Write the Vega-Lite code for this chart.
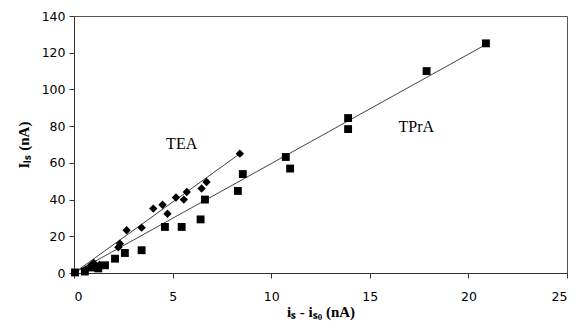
{
  "$schema": "https://vega.github.io/schema/vega-lite/v6.json",
  "autosize": "none",
  "width": 493,
  "height": 257,
  "padding": {"left": 74, "top": 16, "right": 7, "bottom": 48},
  "background": "white",
  "config": {
    "view": {"stroke": "#555", "strokeWidth": 1},
    "axis": {
      "grid": false,
      "domainColor": "#333",
      "tickColor": "#333",
      "tickSize": 5,
      "labelFont": "DejaVu Sans",
      "labelFontSize": 12.5,
      "labelColor": "black",
      "titleFont": "Liberation Serif",
      "titleFontSize": 15,
      "titleFontWeight": "bold",
      "titleColor": "black"
    }
  },
  "datasets": {
    "points": [
      {"series": "TEA", "x": 0.6, "y": 2},
      {"series": "TEA", "x": 0.85, "y": 4},
      {"series": "TEA", "x": 1.0, "y": 5.5},
      {"series": "TEA", "x": 1.3, "y": 4.5},
      {"series": "TEA", "x": 2.25, "y": 14},
      {"series": "TEA", "x": 2.33, "y": 16},
      {"series": "TEA", "x": 2.67, "y": 23.3},
      {"series": "TEA", "x": 3.43, "y": 24.7},
      {"series": "TEA", "x": 4.02, "y": 35.1},
      {"series": "TEA", "x": 4.49, "y": 37.2},
      {"series": "TEA", "x": 4.74, "y": 32.3},
      {"series": "TEA", "x": 5.17, "y": 41.1},
      {"series": "TEA", "x": 5.57, "y": 40.0},
      {"series": "TEA", "x": 5.72, "y": 44.1},
      {"series": "TEA", "x": 6.47, "y": 46.0},
      {"series": "TEA", "x": 6.72, "y": 49.6},
      {"series": "TEA", "x": 8.41, "y": 65.0},
      {"series": "TPrA", "x": 0.05, "y": 0.3},
      {"series": "TPrA", "x": 0.55, "y": 0.8},
      {"series": "TPrA", "x": 0.9, "y": 3},
      {"series": "TPrA", "x": 1.23, "y": 2.5},
      {"series": "TPrA", "x": 1.57, "y": 4.2},
      {"series": "TPrA", "x": 2.08, "y": 7.8},
      {"series": "TPrA", "x": 2.58, "y": 10.9},
      {"series": "TPrA", "x": 3.43, "y": 12.4},
      {"series": "TPrA", "x": 4.61, "y": 25.1},
      {"series": "TPrA", "x": 5.46, "y": 25.1},
      {"series": "TPrA", "x": 6.42, "y": 29.2},
      {"series": "TPrA", "x": 6.64, "y": 40.0},
      {"series": "TPrA", "x": 8.31, "y": 44.7},
      {"series": "TPrA", "x": 8.56, "y": 53.9},
      {"series": "TPrA", "x": 10.74, "y": 63.2},
      {"series": "TPrA", "x": 10.96, "y": 56.9},
      {"series": "TPrA", "x": 13.9, "y": 84.4},
      {"series": "TPrA", "x": 13.9, "y": 78.4},
      {"series": "TPrA", "x": 17.88, "y": 110.0},
      {"series": "TPrA", "x": 20.89, "y": 125.1}
    ],
    "lines": [
      {"series": "TEA", "x": 0, "y": 0},
      {"series": "TEA", "x": 8.41, "y": 65.0},
      {"series": "TPrA", "x": 0, "y": 0},
      {"series": "TPrA", "x": 20.89, "y": 124.5}
    ],
    "labels": [
      {"x": 5.46, "y": 70.5, "label": "TEA"},
      {"x": 17.36, "y": 79.5, "label": "TPrA"}
    ]
  },
  "encoding": {
    "x": {"field": "x", "type": "quantitative",
      "scale": {"domain": [0, 25], "nice": false},
      "axis": {"values": [0, 5, 10, 15, 20, 25], "title": "iₛ - iₛ₀ (nA)", "labelPadding": 12, "titlePadding": 2}},
    "y": {"field": "y", "type": "quantitative",
      "scale": {"domain": [0, 140], "nice": false},
      "axis": {"values": [0, 20, 40, 60, 80, 100, 120, 140], "title": "Iₗₛ (nA)", "labelPadding": 4, "titlePadding": 10}}
  },
  "layer": [
    {
      "data": {"name": "lines"},
      "mark": {"type": "line", "color": "#444", "strokeWidth": 1},
      "encoding": {"detail": {"field": "series"}}
    },
    {
      "data": {"name": "points"},
      "transform": [{"filter": "datum.series === 'TPrA'"}],
      "mark": {"type": "point", "shape": "square", "filled": true, "color": "black", "size": 62, "opacity": 1}
    },
    {
      "data": {"name": "points"},
      "transform": [{"filter": "datum.series === 'TEA'"}],
      "mark": {"type": "point", "shape": "diamond", "filled": true, "color": "black", "size": 70, "opacity": 1}
    },
    {
      "data": {"name": "labels"},
      "mark": {"type": "text", "font": "Liberation Serif", "fontSize": 16, "color": "black"},
      "encoding": {"text": {"field": "label"}}
    }
  ]
}
